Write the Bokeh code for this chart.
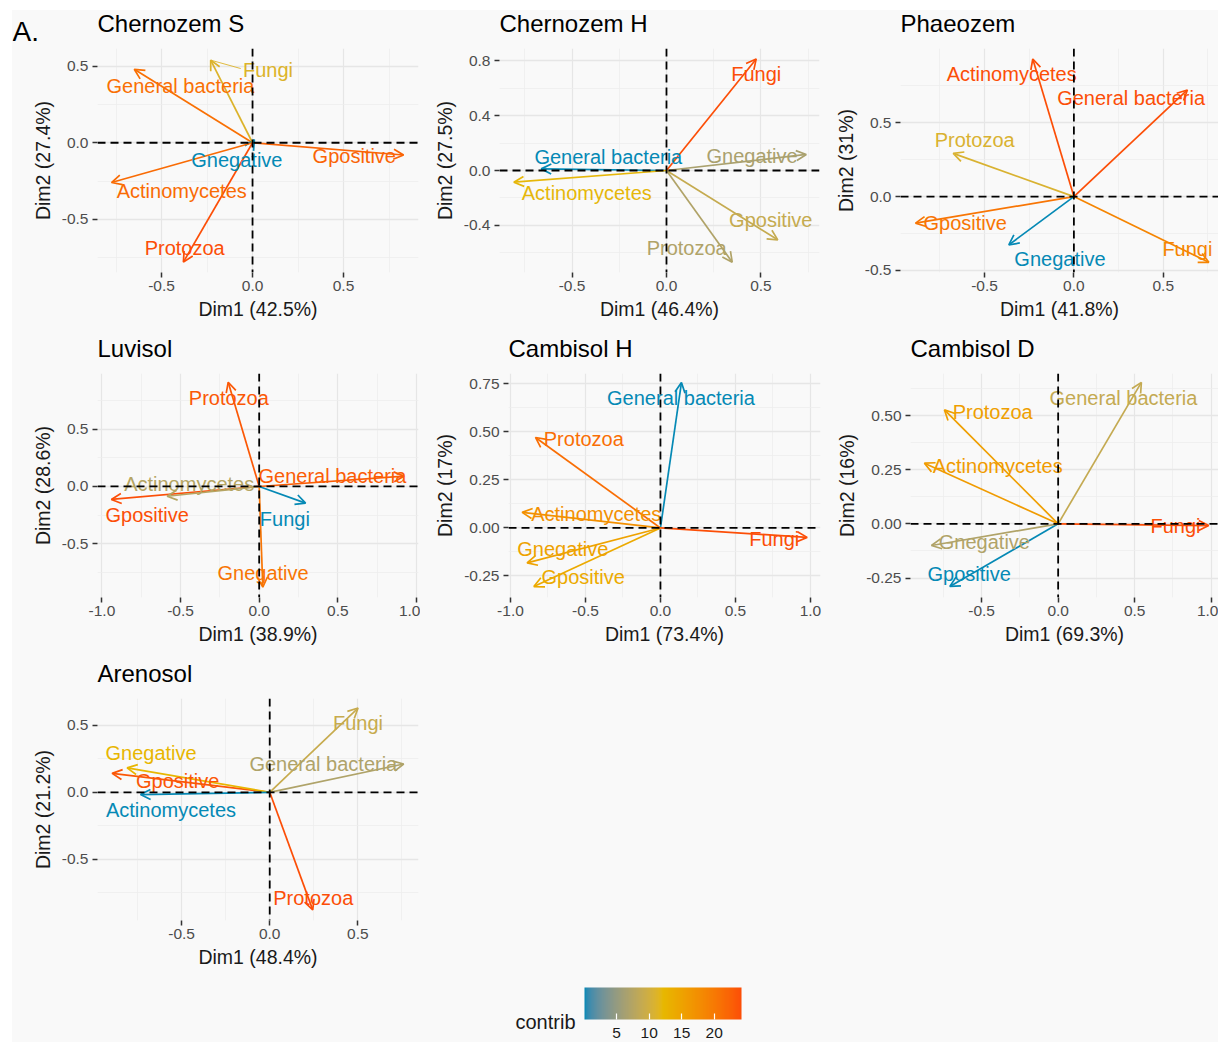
from bokeh.plotting import figure
from bokeh.models import (ColumnDataSource, Arrow, OpenHead, LabelSet, Label, Span,
                          LinearColorMapper, ColorBar, FixedTicker, PrintfTickFormatter,
                          Range1d, Spacer)
from bokeh.layouts import row, column
from bokeh.transform import transform
from bokeh.core.properties import value
from bokeh.embed import file_html
from bokeh.resources import INLINE

# ---------------------------------------------------------------- data
VARIABLES = ["General bacteria", "Gpositive", "Gnegative", "Actinomycetes", "Fungi", "Protozoa"]

# Chernozem S
chs_dim1 = [-0.65, 0.83, 0.01, -0.775, -0.23, -0.38]
chs_dim2 = [0.48, -0.08, 0.02, -0.26, 0.54, -0.78]
chs_contrib = [21.0, 22.3, 0.05, 21.5, 11.0, 24.2]
chs_pct = (42.5, 27.4)

# Chernozem H
chh_dim1 = [-0.663, 0.589, 0.74, -0.808, 0.475, 0.348]
chh_dim2 = [0.012, -0.505, 0.117, -0.085, 0.813, -0.668]
chh_contrib = [11.8, 16.2, 15.1, 17.8, 23.9, 15.3]
chh_pct = (46.4, 27.5)

# Phaeozem
pha_dim1 = [0.635, -0.886, -0.364, -0.23, 0.755, -0.675]
pha_dim2 = [0.722, -0.18, -0.327, 0.932, -0.445, 0.293]
pha_contrib = [21.9, 19.4, 5.7, 21.9, 18.2, 12.9]
pha_pct = (41.8, 31)

# Luvisol
luv_dim1 = [0.92, -0.94, 0.023, -0.585, 0.295, -0.197]
luv_dim2 = [0.09, -0.113, -0.878, -0.085, -0.145, 0.909]
luv_contrib = [22.2, 23.3, 20.1, 9.1, 2.8, 22.5]
luv_pct = (38.9, 28.6)

# Cambisol H
cah_dim1 = [0.14, -0.844, -0.889, -0.922, 0.978, -0.833]
cah_dim2 = [0.757, -0.305, -0.182, 0.081, -0.049, 0.471]
cah_contrib = [12.0, 16.3, 16.6, 17.3, 19.4, 18.5]
cah_pct = (73.4, 17)

# Cambisol D
cad_dim1 = [0.544, -0.708, -0.828, -0.874, 0.984, -0.743]
cad_dim2 = [0.653, -0.289, -0.1, 0.28, -0.008, 0.526]
cad_contrib = [15.6, 12.6, 15.0, 18.1, 20.9, 17.9]
cad_pct = (69.3, 16)

# Arenosol
are_dim1 = [0.76, -0.894, -0.809, -0.733, 0.501, 0.244]
are_dim2 = [0.211, 0.141, 0.182, -0.017, 0.628, -0.876]
are_contrib = [15.0, 19.8, 16.6, 13.0, 15.6, 20.0]
are_pct = (48.4, 21.2)

# repelled label anchors (data units), same variable order
chs_lab = ([-0.396, 0.559, -0.086, -0.389, 0.085, -0.373], [0.371, -0.086, -0.11, -0.315, 0.478, -0.688])
chh_lab = ([-0.308, 0.552, 0.453, -0.422, 0.475, 0.107], [0.098, -0.364, 0.109, -0.164, 0.70, -0.568])
pha_lab = ([0.32, -0.608, -0.078, -0.348, 0.635, -0.555], [0.667, -0.179, -0.424, 0.827, -0.354, 0.385])
luv_lab = ([0.466, -0.712, 0.025, -0.445, 0.163, -0.193], [0.089, -0.248, -0.757, 0.024, -0.285, 0.774])
cah_lab = ([0.137, -0.515, -0.651, -0.428, 0.759, -0.511], [0.675, -0.254, -0.107, 0.075, -0.055, 0.463])
cad_lab = ([0.427, -0.581, -0.482, -0.395, 0.767, -0.428], [0.58, -0.23, -0.083, 0.267, -0.012, 0.517])
are_lab = ([0.304, -0.522, -0.673, -0.56, 0.501, 0.247], [0.208, 0.081, 0.292, -0.13, 0.519, -0.786])

# leader line from an arrow tip to its displaced label
chs_leader = {"Fungi": (-0.065, 0.485)}

LEGEND_TICKS = [5, 10, 15, 20]

# ---------------------------------------------------------------- style
BG = "#F9F9F9"
FONT = "Liberation Sans"
GRAD = ["#0589B5", "#E7B800", "#FC4E07"]


def _hex_rgb(h):
    return tuple(int(h[i:i + 2], 16) for i in (1, 3, 5))


def _to_lab(rgb):
    def lin(c):
        c /= 255.0
        return c / 12.92 if c <= 0.04045 else ((c + 0.055) / 1.055) ** 2.4
    r, g, b = (lin(c) for c in rgb)
    X = (0.4124 * r + 0.3576 * g + 0.1805 * b) / 0.95047
    Y = 0.2126 * r + 0.7152 * g + 0.0722 * b
    Z = (0.0193 * r + 0.1192 * g + 0.9505 * b) / 1.08883

    def f(t):
        return t ** (1 / 3) if t > 0.008856 else 7.787 * t + 16 / 116
    fx, fy, fz = f(X), f(Y), f(Z)
    return (116 * fy - 16, 500 * (fx - fy), 200 * (fy - fz))


def _from_lab(lab):
    L, a, b = lab
    fy = (L + 16) / 116
    fx = fy + a / 500
    fz = fy - b / 200

    def finv(t):
        return t ** 3 if t ** 3 > 0.008856 else (t - 16 / 116) / 7.787
    X, Y, Z = finv(fx) * 0.95047, finv(fy), finv(fz) * 1.08883
    r = 3.2406 * X - 1.5372 * Y - 0.4986 * Z
    g = -0.9689 * X + 1.8758 * Y + 0.0415 * Z
    bb = 0.0557 * X - 0.2040 * Y + 1.0570 * Z

    def gam(c):
        c = c * 12.92 if c <= 0.0031308 else 1.055 * max(c, 0) ** (1 / 2.4) - 0.055
        return int(max(0, min(255, round(c * 255))))
    return "#%02x%02x%02x" % (gam(r), gam(g), gam(bb))


def lab_palette(stops, n=256):
    labs = [_to_lab(_hex_rgb(c)) for c in stops]
    out = []
    for i in range(n):
        t = i / (n - 1) * (len(labs) - 1)
        k = min(int(t), len(labs) - 2)
        u = t - k
        a, b = labs[k], labs[k + 1]
        out.append(_from_lab(tuple(a[j] + (b[j] - a[j]) * u for j in range(3))))
    return out


PALETTE = lab_palette(GRAD)

# page geometry (page pixels): column boxes, row boxes (title strip top, frame top, row bottom)
PAGE_W = 1218
PAGE_H = 1042
TOP = 10
LEFT = 12
COLS = [(12, 420), (420, 830), (830, 1218)]
ROWS = [(TOP, 48, 330), (330, 373, 655), (655, 698, 975)]
CAP_MID = 0.358          # cap-height middle above the baseline, in em
TITLE_SIZE = 24
TITLE_RAISE = 16         # baseline of panel titles above the plot frame

PANELS = [
    dict(title="Chernozem S", d1=chs_dim1, d2=chs_dim2, c=chs_contrib, pct=chs_pct, lab=chs_lab,
         cell=(0, 0), frame=(97, 418, 272), xr=(-0.852, 0.912), yr=(-0.848, 0.616),
         xt=[-0.5, 0, 0.5], xm=[-0.75, -0.25, 0.25, 0.75], yt=[-0.5, 0, 0.5], ym=[-0.75, -0.25, 0.25],
         yfmt="%.1f", leader=chs_leader),
    dict(title="Chernozem H", d1=chh_dim1, d2=chh_dim2, c=chh_contrib, pct=chh_pct, lab=chh_lab,
         cell=(0, 1), frame=(499, 819, 272), xr=(-0.884, 0.810), yr=(-0.743, 0.889),
         xt=[-0.5, 0, 0.5], xm=[-0.75, -0.25, 0.25, 0.75], yt=[-0.4, 0, 0.4, 0.8], ym=[-0.6, -0.2, 0.2, 0.6],
         yfmt="%.1f"),
    dict(title="Phaeozem", d1=pha_dim1, d2=pha_dim2, c=pha_contrib, pct=pha_pct, lab=pha_lab,
         cell=(0, 2), frame=(900, 1218, 272), xr=(-0.970, 0.809), yr=(-0.514, 1.003),
         xt=[-0.5, 0, 0.5], xm=[-0.75, -0.25, 0.25, 0.75], yt=[-0.5, 0, 0.5], ym=[-0.25, 0.25, 0.75],
         yfmt="%.1f"),
    dict(title="Luvisol", d1=luv_dim1, d2=luv_dim2, c=luv_contrib, pct=luv_pct, lab=luv_lab,
         cell=(1, 0), frame=(97, 418, 597), xr=(-1.028, 1.013), yr=(-0.968, 0.985),
         xt=[-1, -0.5, 0, 0.5, 1], xm=[-0.75, -0.25, 0.25, 0.75], yt=[-0.5, 0, 0.5], ym=[-0.75, -0.25, 0.25, 0.75],
         yfmt="%.1f"),
    dict(title="Cambisol H", d1=cah_dim1, d2=cah_dim2, c=cah_contrib, pct=cah_pct, lab=cah_lab,
         cell=(1, 1), frame=(508, 820, 597), xr=(-1.013, 1.067), yr=(-0.362, 0.804),
         xt=[-1, -0.5, 0, 0.5, 1], xm=[-0.75, -0.25, 0.25, 0.75], yt=[-0.25, 0, 0.25, 0.5, 0.75],
         ym=[-0.125, 0.125, 0.375, 0.625], yfmt="%.2f"),
    dict(title="Cambisol D", d1=cad_dim1, d2=cad_dim2, c=cad_contrib, pct=cad_pct, lab=cad_lab,
         cell=(1, 2), frame=(910, 1218, 597), xr=(-0.965, 1.048), yr=(-0.340, 0.694),
         xt=[-0.5, 0, 0.5, 1], xm=[-0.75, -0.25, 0.25, 0.75], yt=[-0.25, 0, 0.25, 0.5],
         ym=[-0.125, 0.125, 0.375, 0.625], yfmt="%.2f"),
    dict(title="Arenosol", d1=are_dim1, d2=are_dim2, c=are_contrib, pct=are_pct, lab=are_lab,
         cell=(2, 0), frame=(97, 418, 920), xr=(-0.977, 0.844), yr=(-0.955, 0.699),
         xt=[-0.5, 0, 0.5], xm=[-0.75, -0.25, 0.25, 0.75], yt=[-0.5, 0, 0.5], ym=[-0.75, -0.25, 0.25],
         yfmt="%.1f"),
]


def blank_canvas(width, height, **kw):
    f = figure(width=width, height=height, x_range=Range1d(0, width), y_range=Range1d(0, height),
               x_axis_location=None, y_axis_location=None, min_border=0,
               background_fill_color=BG, border_fill_color=BG, outline_line_color=None,
               output_backend="svg", toolbar_location=None, **kw)
    f.grid.visible = False
    return f


def text_label(x, baseline, text, size, color="black", align="left"):
    # placed by the middle of the capitals, which sits CAP_MID em above the baseline
    return Label(x=x, y=baseline + CAP_MID * size, text=text, text_font=FONT,
                 text_font_size="%dpx" % size, text_color=color,
                 text_align=align, text_baseline="middle")


def style_axis(ax, standoff, label_standoff):
    ax.axis_line_color = None
    ax.major_tick_line_color = "#333333"
    ax.major_tick_line_width = 1.5
    ax.major_tick_out = 5
    ax.major_tick_in = 0
    ax.minor_tick_line_color = None
    ax.major_label_text_font = FONT
    ax.major_label_text_font_size = "15.5px"
    ax.major_label_text_color = "#4D4D4D"
    ax.major_label_standoff = standoff
    ax.axis_label_text_font = FONT
    ax.axis_label_text_font_size = "19.5px"
    ax.axis_label_text_font_style = "normal"
    ax.axis_label_text_color = "#1A1A1A"
    ax.axis_label_standoff = label_standoff


def make_panel(spec):
    r, c = spec["cell"]
    cx0, cx1 = COLS[c]
    _, fy0, ry1 = ROWS[r]
    L, R, B = spec["frame"]
    p = figure(width=cx1 - cx0, height=ry1 - fy0,
               x_range=Range1d(*spec["xr"]), y_range=Range1d(*spec["yr"]),
               min_border_left=L - cx0, min_border_right=cx1 - R,
               min_border_top=0, min_border_bottom=ry1 - B,
               background_fill_color=BG, border_fill_color=BG, outline_line_color=None,
               output_backend="svg", toolbar_location=None)

    p.xaxis.ticker = FixedTicker(ticks=spec["xt"], minor_ticks=spec["xm"])
    p.yaxis.ticker = FixedTicker(ticks=spec["yt"], minor_ticks=spec["ym"])
    p.xaxis.formatter = PrintfTickFormatter(format="%.1f")
    p.yaxis.formatter = PrintfTickFormatter(format=spec["yfmt"])
    p.xaxis.axis_label = "Dim1 (%g%%)" % spec["pct"][0]
    p.yaxis.axis_label = "Dim2 (%g%%)" % spec["pct"][1]
    style_axis(p.xaxis[0], 3, 4)
    style_axis(p.yaxis[0], 4, 5)
    for g in (p.xgrid[0], p.ygrid[0]):
        g.grid_line_color = "#E6E6E6"
        g.grid_line_width = 1.3
        g.minor_grid_line_color = "#ECECEC"
        g.minor_grid_line_width = 0.7

    n = len(VARIABLES)
    mapper = LinearColorMapper(palette=PALETTE, low=min(spec["c"]), high=max(spec["c"]))
    col = transform("contrib", mapper)
    src = ColumnDataSource(dict(x0=[0.0] * n, y0=[0.0] * n, x1=spec["d1"], y1=spec["d2"],
                                contrib=spec["c"], name=VARIABLES,
                                lx=spec["lab"][0], ly=spec["lab"][1]))

    for var, (ex, ey) in spec.get("leader", {}).items():
        i = VARIABLES.index(var)
        lsrc = ColumnDataSource(dict(xs=[spec["d1"][i]], ys=[spec["d2"][i]], xe=[ex], ye=[ey],
                                     contrib=[spec["c"][i]]))
        p.segment(x0="xs", y0="ys", x1="xe", y1="ye", source=lsrc, line_color=col, line_width=0.9)

    p.add_layout(Arrow(x_start="x0", y_start="y0", x_end="x1", y_end="y1", source=src,
                       line_color=col, line_width=1.7,
                       end=OpenHead(size=10, line_width=1.7, line_color=col)))
    p.add_layout(LabelSet(x="lx", y="ly", text="name", source=src, text_color=col,
                          text_align="center", text_baseline="middle",
                          text_font=value(FONT), text_font_size="20px"))
    for dim in ("width", "height"):
        p.add_layout(Span(location=0, dimension=dim, line_color="black",
                          line_width=1.8, line_dash="8 5"))
    return p, mapper


figs, mappers = [], []
for spec in PANELS:
    f, m = make_panel(spec)
    figs.append(f)
    mappers.append(m)

# title strips above each row of panels
strips = []
for r, (ty0, fy0, _) in enumerate(ROWS):
    s = blank_canvas(PAGE_W - LEFT, fy0 - ty0)
    for spec in PANELS:
        if spec["cell"][0] == r:
            s.add_layout(text_label(spec["frame"][0] - LEFT, TITLE_RAISE, spec["title"], TITLE_SIZE))
    if r == 0:
        s.add_layout(text_label(0, 7, "A.", 28))
    strips.append(s)

blank = blank_canvas(COLS[2][1] - COLS[1][0], ROWS[2][2] - ROWS[2][1])

# colour legend (scale of the first panel)
BAR_LEFT, BAR_TOP = 584, 987
LEG_H = PAGE_H - ROWS[2][2]
leg_title = blank_canvas(BAR_LEFT - LEFT, LEG_H)
leg_title.add_layout(text_label(BAR_LEFT - LEFT - 9, 17.5, "contrib", 20, "#1A1A1A", "right"))
leg = figure(width=PAGE_W - BAR_LEFT, height=LEG_H,
             x_range=Range1d(0, 1), y_range=Range1d(0, 1),
             x_axis_location=None, y_axis_location=None,
             min_border_left=0, min_border_top=BAR_TOP - ROWS[2][2],
             min_border_right=0, min_border_bottom=0,
             background_fill_color=BG, border_fill_color=BG, outline_line_color=None,
             output_backend="svg", toolbar_location=None)
leg.grid.visible = False
cb = ColorBar(color_mapper=mappers[0], orientation="horizontal", location="top_left",
              width=157, height=32, padding=0, margin=0,
              ticker=FixedTicker(ticks=LEGEND_TICKS),
              major_label_text_font=FONT, major_label_text_font_size="15.5px",
              major_label_text_color="#1A1A1A", label_standoff=8,
              major_tick_line_color="white", major_tick_in=6, major_tick_out=0,
              major_tick_line_width=1.2, minor_tick_line_color=None,
              bar_line_color=None, border_line_color=None, background_fill_color=None)
leg.add_layout(cb)

grid = column(strips[0], row(figs[0], figs[1], figs[2]),
              strips[1], row(figs[3], figs[4], figs[5]),
              strips[2], row(figs[6], blank),
              row(leg_title, leg),
              styles={"background-color": BG})
page = column(Spacer(width=PAGE_W, height=TOP),
              row(Spacer(width=LEFT, height=PAGE_H - TOP), grid))

open("out.html", "w").write(file_html(page, INLINE))
